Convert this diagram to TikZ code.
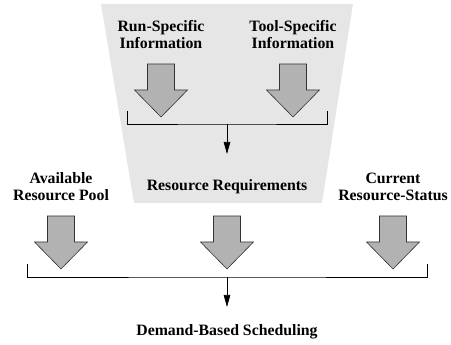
\documentclass[tikz,border=0pt]{standalone}
\usepackage{fontspec}
\setmainfont{Liberation Serif}
\usetikzlibrary{arrows.meta}
\definecolor{panel}{RGB}{230,230,230}
\definecolor{blockfill}{RGB}{178,178,178}
\tikzset{
  lbl/.style={font=\bfseries\fontsize{15.8}{17}\selectfont, align=center, inner sep=0pt},
  blockarrow/.style={draw=black!80, line width=0.6pt, fill=blockfill, line join=miter},
  bracket/.style={draw=black, line width=0.7pt},
  flow/.style={draw=black, line width=0.7pt, -{Triangle[length=12pt,width=6.5pt]}},
}
% down-pointing block arrow with its tip at (#1,#2)
\newcommand{\downblock}[2]{%
  \path[blockarrow] (#1-13.5,#2-53) -- (#1+13.5,#2-53) -- (#1+13.5,#2-27)
    -- (#1+26.5,#2-27) -- (#1,#2) -- (#1-26.5,#2-27) -- (#1-13.5,#2-27) -- cycle;}
\begin{document}
\begin{tikzpicture}[x=1pt,y=-1pt]
\useasboundingbox (0,0) rectangle (451,345);
% shaded panel behind the resource-requirement stage
\fill[panel] (101,4) -- (353,4) -- (322,203) -- (134,203) -- cycle;

\node[lbl] (run)  at (161,35) {Run-Specific\\Information};
\node[lbl] (tool) at (293,35) {Tool-Specific\\Information};
\node[lbl] (req)  at (227,187) {Resource Requirements};
\node[lbl] (pool) at (61,187) {Available\\Resource Pool};
\node[lbl] (stat) at (393,187) {Current\\Resource-Status};
\node[lbl] (sched) at (227,332) {Demand-Based Scheduling};

% upper stage
\downblock{161}{117}
\downblock{293}{117}
\coordinate (ul) at (127,111);
\coordinate (ur) at (327,111);
\coordinate (um) at (227,124);
\coordinate (uend) at (227,154);
\draw[bracket] (ul) |- (um) -| (ur);
\draw[flow] (um) -- (uend);

% lower stage
\downblock{61}{269}
\downblock{227}{269}
\downblock{393}{269}
\coordinate (ll) at (27,264);
\coordinate (lr) at (427,264);
\coordinate (lm) at (227,277);
\coordinate (lend) at (227,307);
\draw[bracket] (ll) |- (lm) -| (lr);
\draw[flow] (lm) -- (lend);
\end{tikzpicture}
\end{document}
